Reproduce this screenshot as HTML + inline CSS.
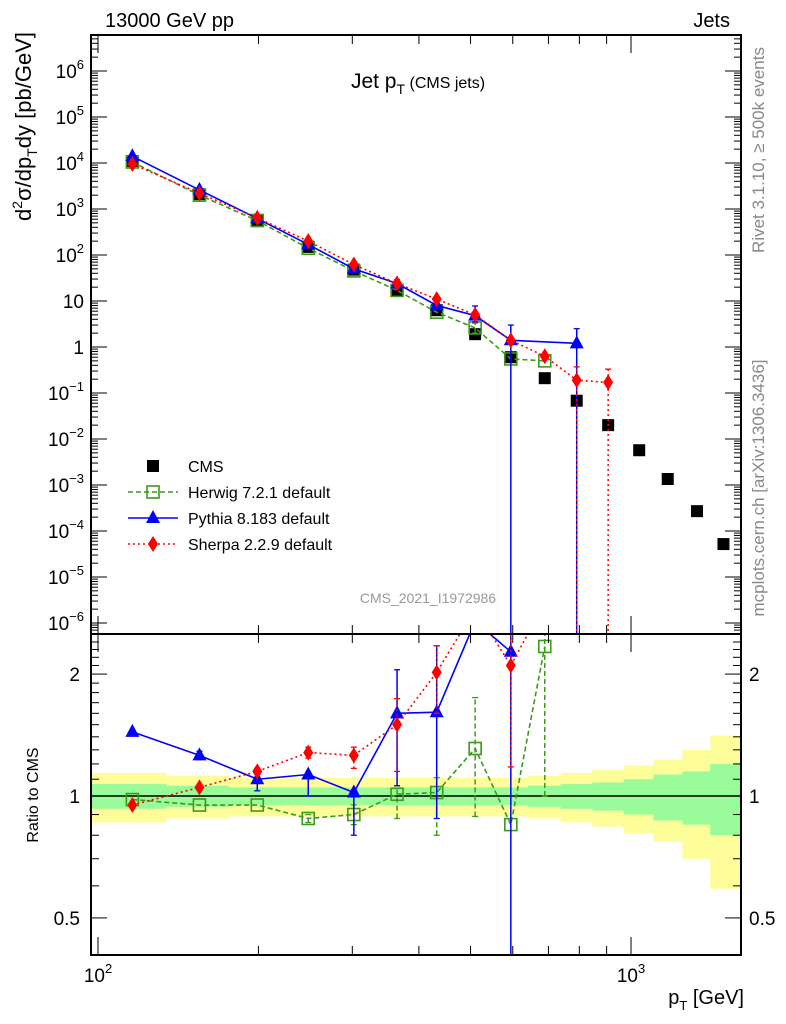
<!DOCTYPE html>
<html><head><meta charset="utf-8"><style>
html,body{margin:0;background:#fff;overflow:hidden;width:786px;height:1024px}
svg{display:block;font-family:"Liberation Sans",sans-serif}
</style></head><body>
<svg id="c" width="786" height="1024" viewBox="0 0 786 1024" xmlns="http://www.w3.org/2000/svg">
<defs>
<clipPath id="cm"><rect x="91" y="35" width="650" height="599"/></clipPath>
<clipPath id="cr"><rect x="91" y="634" width="650" height="321"/></clipPath>
</defs>
<text x="105" y="27" font-size="20">13000 GeV pp</text>
<text x="730" y="27" font-size="20" text-anchor="end">Jets</text>
<text x="418" y="88" font-size="21" text-anchor="middle">Jet p<tspan font-size="14" dy="6">T</tspan><tspan dy="-6" font-size="16"> (CMS jets)</tspan></text>
<text x="428" y="603" font-size="14" fill="#999" text-anchor="middle">CMS_2021_I1972986</text>
<text transform="translate(764,150) rotate(-90)" font-size="17" fill="#888" text-anchor="middle">Rivet 3.1.10, ≥ 500k events</text>
<text transform="translate(764,488) rotate(-90)" font-size="17" fill="#888" text-anchor="middle">mcplots.cern.ch [arXiv:1306.3436]</text>
<text transform="translate(31,32) rotate(-90)" font-size="22" text-anchor="end">d<tspan font-size="14" dy="-9">2</tspan><tspan dy="9">σ/dp</tspan><tspan font-size="14" dy="6">T</tspan><tspan dy="-6">dy [pb/GeV]</tspan></text>
<text transform="translate(38,795) rotate(-90)" font-size="16" text-anchor="middle">Ratio to CMS</text>
<text x="744" y="1004" font-size="20" text-anchor="end">p<tspan font-size="13" dy="6">T</tspan><tspan dy="-6"> [GeV]</tspan></text>
<g id="g"></g>
</svg>
<script>
// ---- data ----
const ptPoints=[116,155,199,248,302,364,432,510,595,689,791,906,1036,1172,1330,1491];
const cmsValues=[11000,2100,580,150,48,16.5,6.3,1.9,0.6,0.21,0.068,0.02,0.0057,0.00135,0.00027,0.000052];
const herwigValues=[10500,2000,560,140,45,17,5.7,2.6,0.55,0.5];
const pythiaValues=[14000,2600,620,170,50,24,8,4.8,1.4,null,1.2];
const sherpaValues=[9500,2200,640,200,62,24,11,5.0,1.4,0.63,0.19,0.17];
const pythiaErrHi=[null,null,null,null,null,29,9.5,7.8,3,null,2.5];
const pythiaErrLo=[null,null,null,null,null,19,6.5,3.5,1e-9,null,1e-9];
const sherpaErrHi=[null,null,null,null,null,null,null,null,null,null,0.37,0.33];
const sherpaErrLo=[null,null,null,null,null,null,null,null,null,null,1e-9,1e-9];
const herwigErrLo=[null,null,null,null,null,null,null,2.0,null,null];
const herwigErrHi=[null,null,null,null,null,null,null,3.3,null,null];
const herwigRatio=[0.98,0.95,0.95,0.88,0.90,1.01,1.02,1.31,0.85,2.34];
const pythiaRatio=[1.44,1.26,1.10,1.13,1.02,1.60,1.61,2.7,2.27];
const sherpaRatio=[0.95,1.05,1.15,1.28,1.26,1.50,2.02,2.9,2.10,3.0];
const herwigRatioLo=[null,null,null,0.86,0.85,0.88,0.80,0.89,null,1.0];
const herwigRatioHi=[null,null,null,0.90,0.95,1.06,1.11,1.75,null,2.6];
const pythiaRatioLo=[null,1.23,1.03,1.0,0.80,1.06,0.88,null,0.1];
const pythiaRatioHi=[null,1.29,1.17,1.13,1.02,2.05,2.35,null,2.6];
const sherpaRatioLo=[null,null,1.13,1.24,1.17,1.15,1.6,null,1.18];
const sherpaRatioHi=[null,null,1.17,1.32,1.32,1.74,2.35,null,2.6];
const bandOuter=[0.14,0.12,0.11,0.11,0.11,0.11,0.11,0.11,0.11,0.12,0.14,0.16,0.19,0.23,0.30,0.41];
const bandInner=[0.07,0.06,0.05,0.05,0.05,0.05,0.05,0.05,0.05,0.06,0.07,0.08,0.10,0.13,0.15,0.20];
const yTickExps=[6,5,4,3,2,1,0,-1,-2,-3,-4,-5,-6];
const ratioTicks=[2,1,0.5];
// ---- axes ----
const X=v=>98+533*Math.log10(v/100);
const Y=v=>347-46*Math.log10(v);
const R=v=>796-405*Math.log10(v);
const NS="http://www.w3.org/2000/svg";
const G=document.getElementById('g');
function mk(tag,at,par){const e=document.createElementNS(NS,tag);for(const k in at)e.setAttribute(k,at[k]);(par||G).appendChild(e);return e;}
const bands=mk('g',{'clip-path':'url(#cr)'});


const main=mk('g',{'clip-path':'url(#cm)'});


const rat=mk('g',{'clip-path':'url(#cr)'});


const edges=[];edges.push(91);
for(let i=0;i<ptPoints.length-1;i++)edges.push(X(Math.sqrt(ptPoints[i]*ptPoints[i+1])));
edges.push(741);
for(let i=0;i<ptPoints.length;i++){
 const y1=mk('rect',{x:edges[i],y:R(1+bandOuter[i]),width:edges[i+1]-edges[i]+0.5,height:R(1-bandOuter[i])-R(1+bandOuter[i]),fill:'#fdfd9a'},bands);
 
 
}
for(let i=0;i<ptPoints.length;i++){
 const g1=mk('rect',{x:edges[i],y:R(1+bandInner[i]),width:edges[i+1]-edges[i]+0.5,height:R(1-bandInner[i])-R(1+bandInner[i]),fill:'#9afb9a'},bands);
 
 
}
mk('line',{x1:91,x2:741,y1:R(1),y2:R(1),stroke:'#000','stroke-width':1.5},bands);
function marker(par,type,x,y,col){
 let e;
 if(type==='sq')e=mk('rect',{x:x-6,y:y-6,width:12,height:12,fill:'#000'},par);
 else if(type==='osq')e=mk('rect',{x:x-6,y:y-6,width:12,height:12,fill:'none',stroke:col,'stroke-width':1.6},par);
 else if(type==='tri')e=mk('path',{d:`M${x},${y-8}L${x+7},${y+5}L${x-7},${y+5}Z`,fill:col},par);
 else e=mk('path',{d:`M${x},${y-8}L${x+5},${y}L${x},${y+8}L${x-5},${y}Z`,fill:col},par);
 return e;
}
function series(par,vals,lo,hi,Yf,col,dash,type,name){
 const g=mk('g',{},par);
 
 
 const pts=[];
 vals.forEach((v,i)=>{if(v!=null)pts.push([X(ptPoints[i]),Yf(v)]);});
 mk('polyline',{points:pts.map(p=>p.join(',')).join(' '),fill:'none',stroke:col,'stroke-width':1.6,'stroke-dasharray':dash},g);
 vals.forEach((v,i)=>{
  if(v==null)return;
  const x=X(ptPoints[i]);
  if(lo&&lo[i]!=null){mk('line',{x1:x,x2:x,y1:Yf(lo[i]),y2:Yf(hi[i]),stroke:col,'stroke-width':1.5,'stroke-dasharray':dash},g);
   mk('line',{x1:x-3,x2:x+3,y1:Yf(hi[i]),y2:Yf(hi[i]),stroke:col,'stroke-width':1.3},g);
   mk('line',{x1:x-3,x2:x+3,y1:Yf(lo[i]),y2:Yf(lo[i]),stroke:col,'stroke-width':1.3},g);}
  const m=marker(g,type,x,Yf(v),col);
  
  
 });
}
const cg=mk('g',{},main);


cmsValues.forEach((v,i)=>{
 const m=marker(cg,'sq',X(ptPoints[i]),Y(v));
 
 
});
series(main,herwigValues,herwigErrLo,herwigErrHi,Y,'#3a9a1a','5,3','osq','herwig-series');
series(main,pythiaValues,pythiaErrLo,pythiaErrHi,Y,'#0000ff','','tri','pythia-series');
series(main,sherpaValues,sherpaErrLo,sherpaErrHi,Y,'#ff0000','2,3','dia','sherpa-series');
series(rat,herwigRatio,herwigRatioLo,herwigRatioHi,R,'#3a9a1a','5,3','osq','herwig-ratio');
series(rat,pythiaRatio,pythiaRatioLo,pythiaRatioHi,R,'#0000ff','','tri','pythia-ratio');
series(rat,sherpaRatio,sherpaRatioLo,sherpaRatioHi,R,'#ff0000','2,3','dia','sherpa-ratio');
const f1=mk('rect',{x:91,y:35,width:650,height:599,fill:'none',stroke:'#000','stroke-width':2});


const f2=mk('rect',{x:91,y:634,width:650,height:321,fill:'none',stroke:'#000','stroke-width':2});


const yt=mk('g',{});


for(let e=-7;e<=6;e++){for(let k=1;k<10;k++){const y=Y(k*Math.pow(10,e));if(y<36||y>633)continue;const L=k===1?16:7;
 mk('line',{x1:91,x2:91+L,y1:y,y2:y,stroke:'#000'},yt);mk('line',{x1:741,x2:741-L,y1:y,y2:y,stroke:'#000'},yt);}}
yTickExps.forEach(e=>{
 const t=mk('text',{x:84,y:Y(Math.pow(10,e))+7,'font-size':19,'text-anchor':'end'},yt);
 
 
 if(e===0)t.textContent='1';else if(e===1)t.textContent='10';
 else{t.textContent='10';const s=document.createElementNS(NS,'tspan');s.setAttribute('font-size',13);s.setAttribute('dy',-9);s.textContent=String(e).replace('-','−');t.appendChild(s);}
});
const rt=mk('g',{});


[0.5,0.6,0.7,0.8,0.9,1,1.1,1.2,1.3,1.4,1.5,1.6,1.7,1.8,1.9,2,2.1,2.2,2.3,2.4,2.5].forEach(v=>{const y=R(v);if(y<635||y>954)return;const L=(v===0.5||v===1||v===2)?16:8;
 mk('line',{x1:91,x2:91+L,y1:y,y2:y,stroke:'#000'},rt);mk('line',{x1:741,x2:741-L,y1:y,y2:y,stroke:'#000'},rt);});
ratioTicks.forEach(v=>{
 const a=mk('text',{x:80,y:R(v)+7,'font-size':19,'text-anchor':'end'},rt);a.textContent=String(v);
 
 
 const b=mk('text',{x:749,y:R(v)+7,'font-size':19},rt);b.textContent=String(v);
 
 
});
const xt=mk('g',{});


for(let v=100;v<=1800;v+=(v<1000?100:1000)){const x=X(v);if(x<92||x>740)continue;const L=(v===100||v===1000)?18:9;
 [[35,1],[634,-1],[634,1],[955,-1]].forEach(([y0,s])=>mk('line',{x1:x,x2:x,y1:y0,y2:y0+s*L,stroke:'#000'},xt));}
[[100,'2'],[1000,'3']].forEach(([v,e])=>{const t=mk('text',{x:X(v),y:982,'font-size':19,'text-anchor':'middle'},xt);t.textContent='10';
 
 
 const s=document.createElementNS(NS,'tspan');s.setAttribute('font-size',13);s.setAttribute('dy',-9);s.textContent=e;t.appendChild(s);});
const lg=mk('g',{});


[['CMS','sq','#000',''],['Herwig 7.2.1 default','osq','#3a9a1a','5,3'],['Pythia 8.183 default','tri','#0000ff',''],['Sherpa 2.2.9 default','dia','#ff0000','2,3']].forEach((d,i)=>{
 const y=466+i*26;const e=mk('g',{},lg);
 
 
 if(i>0)mk('line',{x1:128,x2:178,y1:y,y2:y,stroke:d[2],'stroke-width':1.6,'stroke-dasharray':d[3]},e);
 marker(e,d[1],153,y,d[2]);
 const t=mk('text',{x:188,y:y+6,'font-size':16},e);t.textContent=d[0];
});
</script>
</body></html>
